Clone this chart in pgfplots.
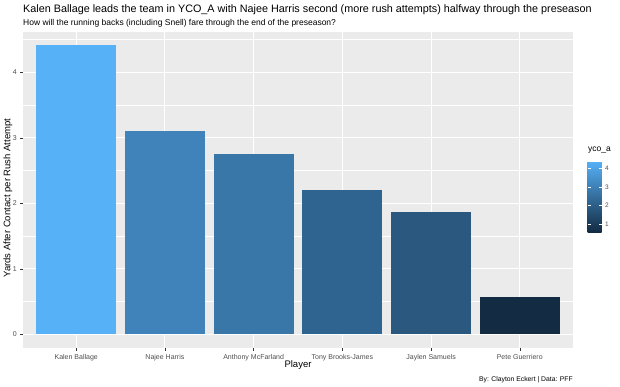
\documentclass[border=0pt]{standalone}
\usepackage{pgfplots}
\pgfplotsset{compat=1.18}
\usepackage{fontspec}
\setmainfont{Liberation Sans}
\definecolor{lo}{RGB}{19,43,67}
\definecolor{hi}{RGB}{86,177,247}
\definecolor{panelbg}{RGB}{235,235,235}
\definecolor{grey30}{RGB}{77,77,77}
\definecolor{grey20}{RGB}{51,51,51}
\colorlet{c0}{hi}
\colorlet{c1}{hi!66!lo}
\colorlet{c2}{hi!56.7!lo}
\colorlet{c3}{hi!42.7!lo}
\colorlet{c4}{hi!33.6!lo}
\colorlet{c5}{lo}
\begin{document}
\begin{tikzpicture}
\path[use as bounding box] (-23pt,-38pt) rectangle (597pt,348pt);
\begin{axis}[
  at={(0,0)}, anchor=south west,
  scale only axis, width=550pt, height=316pt,
  xmin=-0.6, xmax=5.6, ymin=-0.21, ymax=4.615,
  axis background/.style={fill=panelbg},
  axis line style={draw=none},
  xtick={0,1,2,3,4,5},
  xticklabels={Kalen Ballage,Najee Harris,Anthony McFarland,Tony Brooks-James,Jaylen Samuels,Pete Guerriero},
  ytick={0,1,2,3,4},
  minor ytick={0.5,1.5,2.5,3.5,4.5},
  xtick pos=bottom, ytick pos=left,
  tick align=outside, major tick length=2.7pt, minor tick length=0pt,
  major tick style={grey20, line width=0.5pt},
  grid=both,
  major grid style={white, line width=1.1pt},
  minor grid style={white, line width=0.55pt},
  tick label style={font=\fontsize{7}{8}\selectfont, text=grey30},
  /pgf/number format/assume math mode=true,
  colormap={gg}{rgb255=(19,43,67) rgb255=(86,177,247)},
  colorbar,
  point meta min=0.565, point meta max=4.42,
  colorbar style={
    at={(parent axis.south east)}, anchor=south west,
    xshift=6pt, yshift=116pt,
    width=14pt, height=71pt,
    ytick={1,2,3,4},
    axis line style={draw=none},
    tick align=inside, major tick length=3pt,
    ytick pos=both, yticklabel pos=right,
    major tick style={white, line width=0.6pt},
    tick label style={font=\fontsize{6.5}{7}\selectfont, text=grey30},
    /pgf/number format/assume math mode=true,
    title={yco\_a},
    title style={font=\fontsize{8.5}{9}\selectfont, anchor=base west, at={(0,1)}, yshift=4pt, xshift=-3pt},
  },
]
\addplot[ybar, bar width=0.9, fill=c0, draw=none] coordinates {(0,4.42)};
\addplot[ybar, bar width=0.9, fill=c1, draw=none] coordinates {(1,3.11)};
\addplot[ybar, bar width=0.9, fill=c2, draw=none] coordinates {(2,2.75)};
\addplot[ybar, bar width=0.9, fill=c3, draw=none] coordinates {(3,2.21)};
\addplot[ybar, bar width=0.9, fill=c4, draw=none] coordinates {(4,1.86)};
\addplot[ybar, bar width=0.9, fill=c5, draw=none] coordinates {(5,0.565)};
\end{axis}
\node[anchor=base west, inner sep=0pt, font=\fontsize{10.8}{12}\selectfont] at (0pt,335.5pt) {Kalen Ballage leads the team in YCO\_A with Najee Harris second (more rush attempts) halfway through the preseason};
\node[anchor=base west, inner sep=0pt, font=\fontsize{8.5}{10}\selectfont] at (0pt,322pt) {How will the running backs (including Snell) fare through the end of the preseason?};
\node[anchor=center, inner sep=0pt, font=\fontsize{9.5}{10}\selectfont] at (275pt,-17pt) {Player};
\node[anchor=base east, inner sep=0pt, font=\fontsize{6.8}{8}\selectfont] at (550pt,-33pt) {By: Clayton Eckert | Data: PFF};
\node[anchor=center, inner sep=0pt, rotate=90, font=\fontsize{9.5}{10}\selectfont] at (-15pt,150pt) {Yards After Contact per Rush Attempt};
\end{tikzpicture}
\end{document}
